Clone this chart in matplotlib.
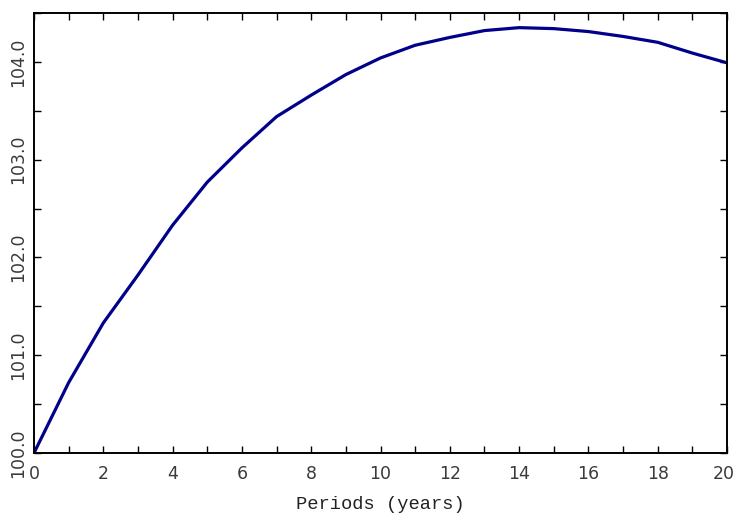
import matplotlib
matplotlib.use("Agg")
import matplotlib.pyplot as plt
from matplotlib.ticker import MultipleLocator, FormatStrFormatter, FuncFormatter

years = [0, 1, 2, 3, 4, 5, 6, 7, 8, 9, 10, 11, 12, 13, 14, 15, 16, 17, 18, 19, 20]
values = [100.0, 100.72, 101.33, 101.82, 102.33, 102.77, 103.12, 103.44, 103.66,
          103.87, 104.04, 104.17, 104.25, 104.32, 104.35, 104.34, 104.31, 104.26,
          104.20, 104.09, 103.99]

fig = plt.figure(figsize=(7.36, 5.17), dpi=100)
ax = fig.add_axes([0.0462, 0.1238, 0.9416, 0.8511])
ax.plot(years, values, color="#00008B", lw=2.3, solid_capstyle="butt")
xmax = years[-1]
ax.set_xlim(years[0], xmax)
ax.set_ylim(100, 104.5)

ax.xaxis.set_major_locator(MultipleLocator(2))
ax.xaxis.set_minor_locator(MultipleLocator(1))
ax.xaxis.set_major_formatter(FuncFormatter(lambda v, p: "" if abs(v - xmax) < 1e-9 else f"{v:g}"))
ax.yaxis.set_major_locator(MultipleLocator(1))
ax.yaxis.set_minor_locator(MultipleLocator(0.5))
ax.yaxis.set_major_formatter(FormatStrFormatter("%.1f"))

ax.tick_params(which="both", direction="in", top=True, right=True, length=5,
               width=1, labelsize=12.5, colors="black", labelcolor="#3a3a3a")
ax.tick_params(axis="x", pad=9)
ax.tick_params(axis="y", pad=5)
for lab in ax.get_yticklabels():
    lab.set_rotation(90)
    lab.set_va("center")
for s in ax.spines.values():
    s.set_linewidth(1.4)

# last x tick label, nudged left so it stays inside the canvas
ax.annotate(f"{xmax:g}", xy=(xmax, 0), xycoords=("data", "axes fraction"),
            xytext=(-2.5, -9), textcoords="offset points", ha="center", va="top",
            fontsize=12.5, color="#3a3a3a")

ax.set_xlabel("Periods (years)", family="Liberation Mono", fontsize=13.5, color="#222222", labelpad=9)

fig.savefig("out.png", dpi=100)
